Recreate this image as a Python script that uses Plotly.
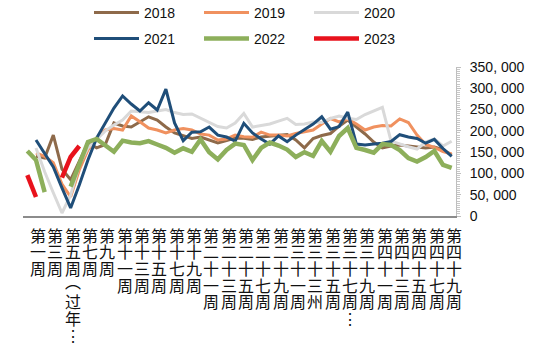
import plotly.graph_objects as go

weeks = list(range(1, 51))

y2018 = [None, 140000, 136000, 190000, 110000, 85000, 130000, 172000, 160000, 168000,
         218500, 211400, 209000, 221500, 233000, 225500, 209000, 195000, 188000, 182000,
         185500, 178500, 171500, 177000, 183000, 182500, 180000, 185500, 187500, 189000,
         191500, 178500, 160000, 182000, 189000, 193800, 211000, 225500, 209000, 192600,
         173800, 160000, 164400, 166800, 164400, 162000, 160000, 162000, 156000, 143000]

y2019 = [None, 148000, 140000, 125000, 75000, 45000, 108000, 155000, 183000, 202000,
         205500, 202000, 235000, 221500, 206700, 202000, 195000, 202000, 205500, 202000,
         192600, 190000, 178500, 181000, 190000, 186300, 185000, 197000, 190000, 190000,
         188000, 193800, 197000, 202000, 216000, 229000, 221000, 228000, 216000, 202000,
         209000, 212600, 211400, 228000, 219600, 190000, 168000, 161000, 151500, 145600]

y2020 = [None, 160000, 104000, 54500, 7000, 49000, 120000, 160000, 181000, 200000,
         214000, 225500, 246600, 245500, 243000, 246600, 250000, 243000, 238400, 239600,
         230000, 220800, 210000, 206700, 218500, 240800, 209000, 212600, 216100, 223000,
         229500, 215000, 216100, 220800, 219600, 229000, 235000, 229500, 226700, 238400,
         247800, 255300, 176000, 169000, 162800, 157400, 173800, 181000, 164400, 175500]

y2021 = [None, 178500, 148000, 115000, 66000, 19000, 73000, 131500, 183000, 218500,
         253700, 282000, 263000, 246600, 266000, 249000, 298000, 218500, 177000, 197000,
         198000, 209000, 190000, 185500, 176000, 217700, 195000, 181000, 169000, 188000,
         174500, 190000, 204000, 216000, 233000, 204000, 210000, 244000, 169000, 167000,
         169000, 171000, 175000, 191000, 185500, 182000, 171000, 180000, 158500, 140000]

y2022 = [152700, 131500, 56000, None, None, 69000, 124500, 174000, 181000, 166800,
         151000, 177000, 172500, 171000, 176000, 168000, 160000, 148600, 159000, 151000,
         180000, 150000, 133000, 155000, 170000, 166800, 131500, 160000, 172600, 165600,
         156000, 138600, 150000, 141000, 176000, 151000, 188000, 206700, 160000, 155000,
         148700, 169000, 166800, 155000, 136000, 128000, 138600, 152700, 119800, 112800]

y2023 = [96000, 44600, None, None, 90000, 138600, 164400] + [None] * 43

series = [
    ("2018", y2018, "#8E6A4A", 3, "legend"),
    ("2019", y2019, "#F0915F", 3, "legend"),
    ("2020", y2020, "#D9D9D9", 3, "legend"),
    ("2021", y2021, "#1F4E79", 3, "legend2"),
    ("2022", y2022, "#8DAF5B", 4.5, "legend2"),
    ("2023", y2023, "#E8121C", 4.5, "legend2"),
]

label_weeks = list(range(1, 50, 2))
label_texts = ["第一周", "第三周", "第五周︵过年⋮", "第七周", "第九周", "第十一周", "第十三周",
               "第十五周", "第十七周", "第十九周", "第二十一周", "第二十三周", "第二十五周",
               "第二十七周", "第二十九周", "第三十一周", "第三十三州", "第三十五周",
               "第三十七周⋮", "第三十九周", "第四十一周", "第四十三周", "第四十五周",
               "第四十七周", "第四十九周"]

y_ticks = list(range(0, 350001, 50000))
y_tick_text = ["0" if v == 0 else f"{v // 1000}, {v % 1000:03d}" for v in y_ticks]

fig = go.Figure()
for name, vals, color, w, lg in series:
    fig.add_trace(go.Scatter(x=weeks, y=vals, name=name, mode="lines",
                             line=dict(color=color, width=w), connectgaps=False,
                             legend=lg))

# vertical (stacked) category labels, one character per row
annotations = []
for wk, txt in zip(label_weeks, label_texts):
    for r, ch in enumerate(txt):
        extra = 4 if ch == "︵" else 0
        annotations.append(dict(x=wk + 1.25, xref="x", y=0, yref="paper",
                                text=ch, showarrow=False, xanchor="center",
                                yanchor="middle", yshift=-(18.5 + 16.7 * r) + extra,
                                borderpad=0,
                                font=dict(family="Noto Sans CJK SC", size=16, color="#111")))

legend_common = dict(orientation="h", xref="container", yref="container",
                     xanchor="left", yanchor="middle", bgcolor="rgba(0,0,0,0)",
                     font=dict(family="Liberation Sans, Arial", size=14, color="#111"),
                     entrywidth=50, entrywidthmode="pixels", itemwidth=45,
                     traceorder="normal")

fig.update_layout(
    width=550, height=354,
    margin=dict(l=23, r=94, t=67, b=138, autoexpand=False),
    paper_bgcolor="white", plot_bgcolor="white",
    showlegend=True,
    legend=dict(x=89 / 550, y=1 - 13 / 354, **legend_common),
    legend2=dict(x=89 / 550, y=1 - 39 / 354, **legend_common),
    xaxis=dict(range=[0.5, 50.5], showgrid=False, zeroline=False, showticklabels=False,
               ticks="", showline=True, linecolor="#8c8c8c", linewidth=2),
    yaxis=dict(range=[0, 350000], side="right", showgrid=False, zeroline=False,
               showline=True, linecolor="#bfbfbf", linewidth=1,
               tickvals=y_ticks, ticktext=y_tick_text, ticks="outside", ticklen=4,
               tickcolor="#bfbfbf", ticklabelstandoff=6,
               minor=dict(dtick=5000, ticks="outside", ticklen=3, tickcolor="#c8c8c8"),
               tickfont=dict(family="Liberation Sans, Arial", size=14, color="#111")),
    annotations=annotations,
)

fig.write_html("out.html")
